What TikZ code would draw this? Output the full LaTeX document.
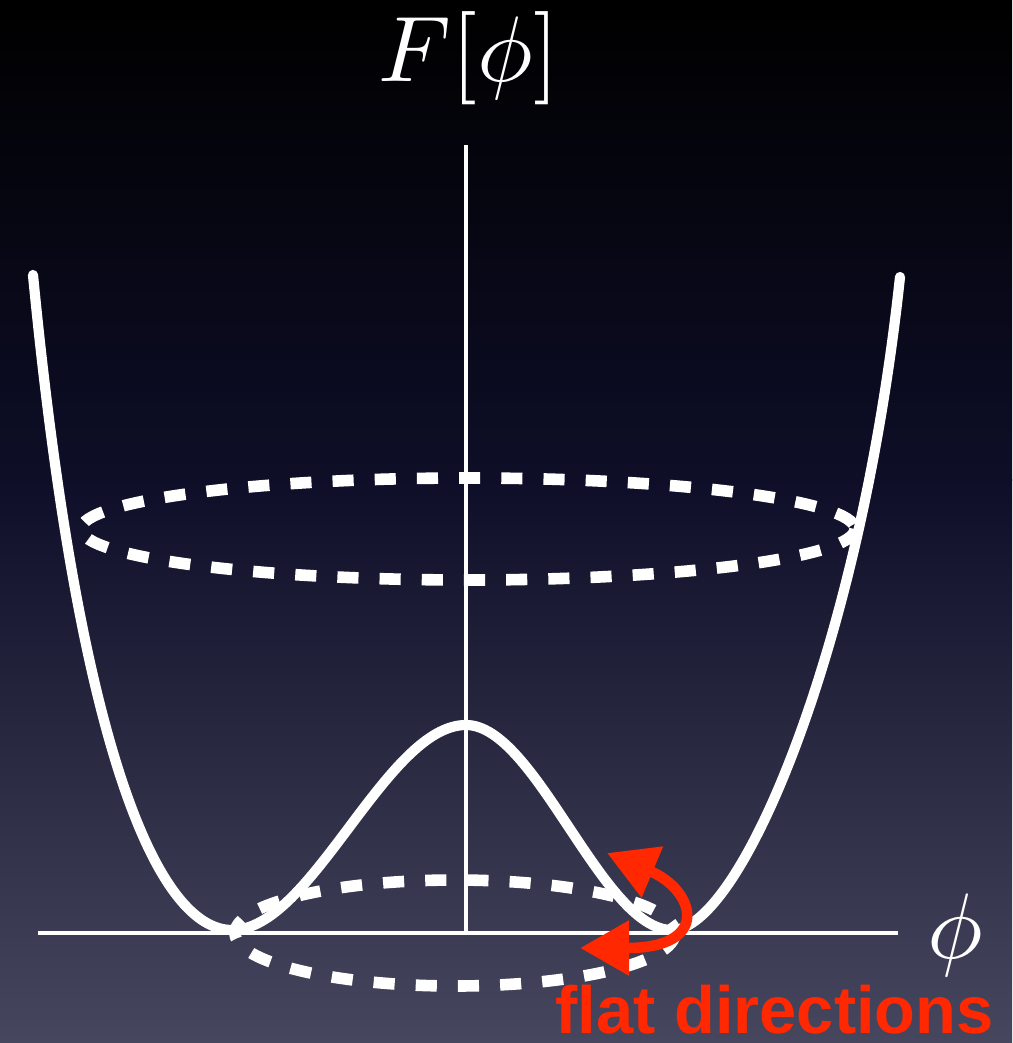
\documentclass[tikz,border=0pt]{standalone}
\usepackage{amsmath, amssymb}
\usepackage{fontspec}
\usepackage{xcolor}
\usepackage{tikz}
\usetikzlibrary{arrows.meta, positioning, calc}
\newfontfamily\etichetta{Liberation Sans}
\definecolor{rosso}{RGB}{255,40,0}
\definecolor{fondoalto}{RGB}{0,0,0}
\definecolor{fondomezzo}{RGB}{14,14,40}
\definecolor{fondobasso}{RGB}{70,70,94}
\tikzset{
    asse/.style={white, line width=1.2pt},
    potenziale/.style={white, line width=2.9pt, line cap=round},
    orbita/.style={white, line width=3.3pt, dash pattern=on 6pt off 6pt},
    piatta/.style={rosso, line width=3pt, {Triangle[length=14pt, width=15pt]}-{Triangle[length=14pt, width=15pt]}}
}

\begin{document}
\begin{tikzpicture}[x=0.01cm, y=-0.01cm]
    % Sfondo sfumato
    \useasboundingbox (0,0) rectangle (1012,1043);
    \shade[top color=fondoalto, bottom color=fondomezzo] (0,0) rectangle (1012,480);
    \shade[top color=fondomezzo, bottom color=fondobasso] (0,479) rectangle (1012,1043);

    % Assi
    \draw[asse] (466,145) -- (466,933);
    \draw[asse] (38,933) -- (898,933);
    \node[white, scale=2.65, anchor=base] (Fphi) at (469,82) {$F[\phi]$};
    \node[white, scale=2.65, anchor=base] (phi) at (955,958) {$\phi$};

    % Potenziale a doppio pozzo
    \draw[potenziale] (33,275) .. controls (80,760) and (160,930) .. (232,930)
        .. controls (312,930) and (386,725) .. (466,725)
        .. controls (536,725) and (602,930) .. (672,930)
        .. controls (740,930) and (860,650) .. (900,277);

    % Orbite tratteggiate
    \draw[orbita] (468,529) ellipse [x radius=387, y radius=51];
    \draw[orbita] (455,933) ellipse [x radius=220, y radius=53];

    % Direzioni piatte
    \draw[piatta] (607,853) .. controls (695,890) and (712,948) .. (580,948);
    \node[rosso, inner sep=0pt, font=\etichetta\bfseries\fontsize{19}{21}\selectfont, anchor=base west] (flat) at (555,1033) {flat directions};
\end{tikzpicture}
\end{document}
